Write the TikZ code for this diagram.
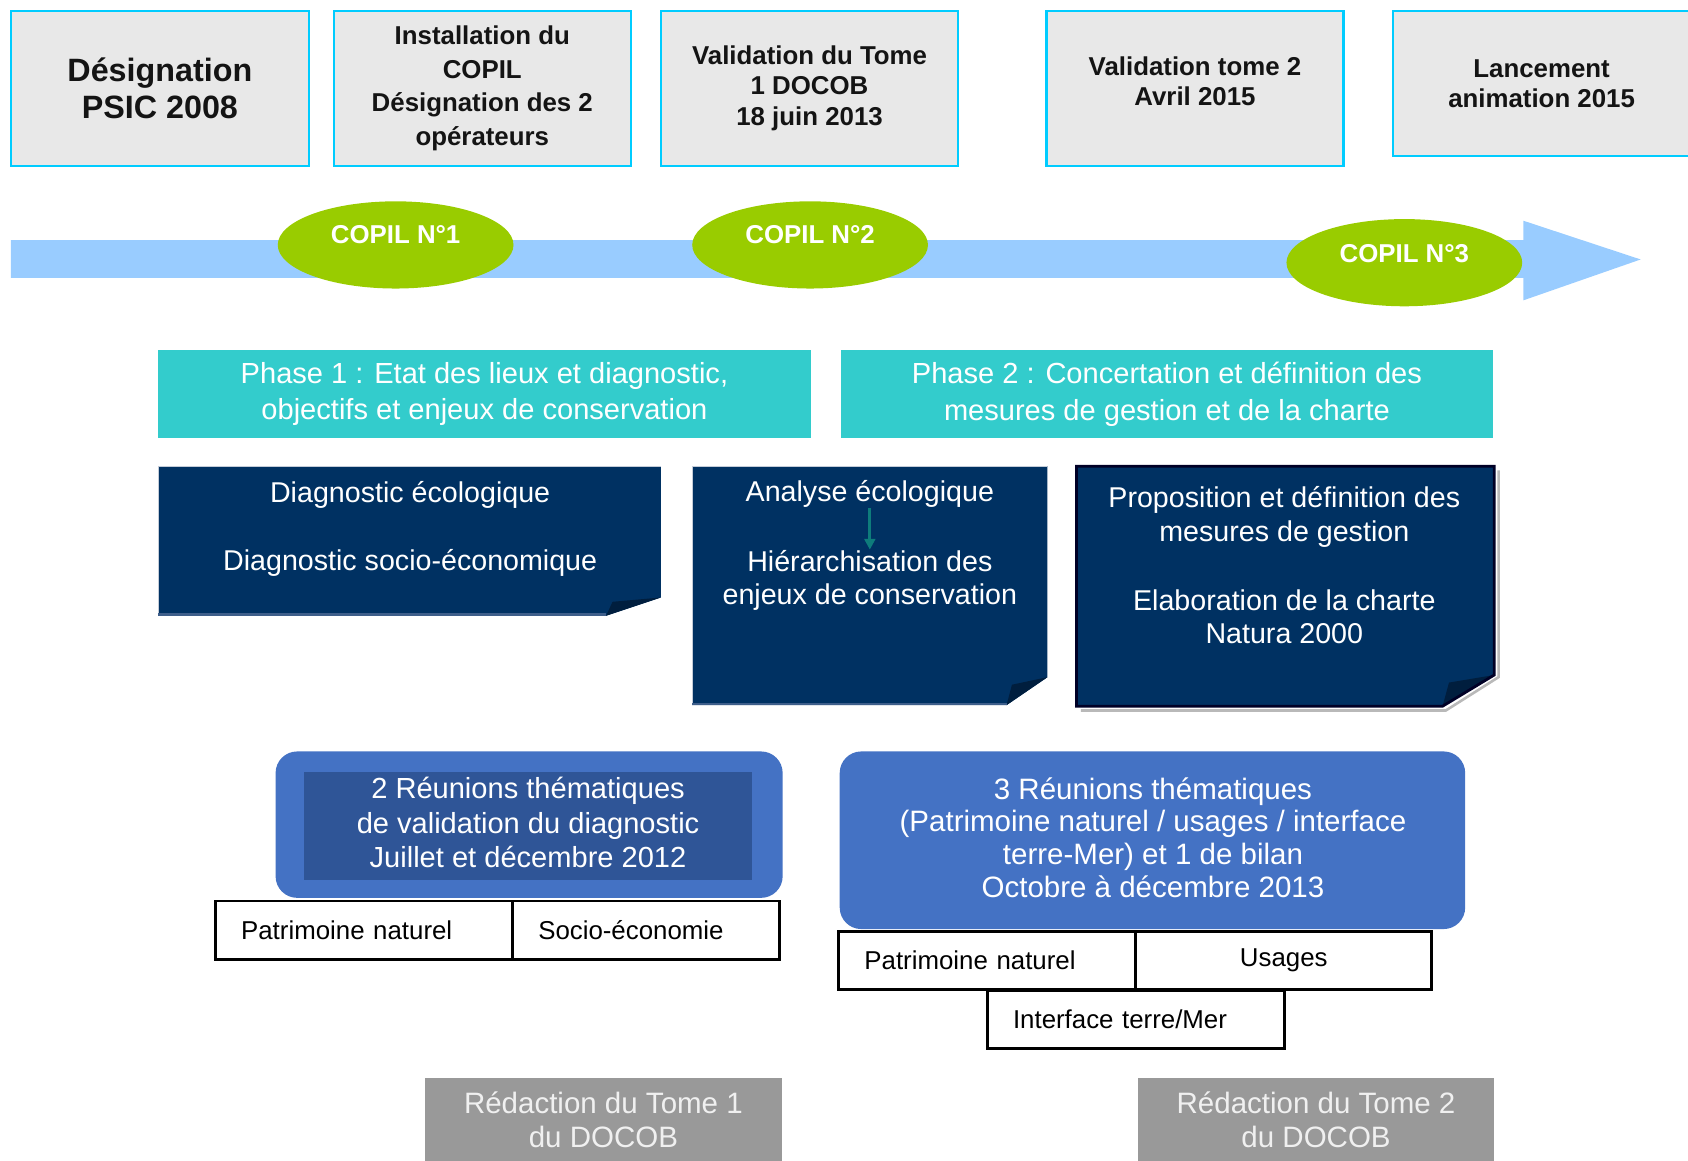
\documentclass[tikz,border=0pt]{standalone}
\usepackage{fontspec}
\setmainfont{Liberation Sans}
\usetikzlibrary{shapes.geometric,arrows.meta}
\definecolor{boxgray}{HTML}{E8E8E8}
\definecolor{cyanb}{HTML}{00CCFF}
\definecolor{arrowblue}{HTML}{99CCFF}
\definecolor{copilgreen}{HTML}{99CC00}
\definecolor{phaseteal}{HTML}{33CCCC}
\definecolor{navyb}{HTML}{003162}
\definecolor{navyfold}{HTML}{001E3E}
\definecolor{navyedge}{HTML}{3E5E8A}
\definecolor{navyline}{HTML}{C4CCD8}
\definecolor{reunion}{HTML}{4472C4}
\definecolor{reuninner}{HTML}{2F5597}
\definecolor{redgray}{HTML}{999999}
\definecolor{tealarr}{HTML}{0E7C7B}
\begin{document}
\begin{tikzpicture}[x=0.5pt,y=-0.5pt,
  topbox/.style={draw=cyanb, line width=1.1pt, fill=boxgray, inner sep=0pt, align=center,
    text=black!92, minimum height=72pt, minimum width=138pt},
  topfont/.style={font=\fontsize{12}{14}\selectfont\bfseries},
  copil/.style={ellipse, fill=copilgreen, inner sep=0pt, minimum width=109.5pt, minimum height=40.5pt},
  copiltext/.style={text=white, font=\fontsize{12}{14}\selectfont\bfseries, inner sep=0pt},
  phasebox/.style={fill=phaseteal, text=white, align=center, inner sep=0pt,
    minimum width=303pt, minimum height=41pt, font=\fontsize{13.5}{17}\selectfont},
  navytext/.style={text=white, align=center, inner sep=0pt, font=\fontsize{13.3}{15.5}\selectfont},
  reubox/.style={fill=reunion, rounded corners=10pt, inner sep=0pt},
  reutext/.style={text=white, align=center, inner sep=0pt, font=\fontsize{13.5}{16}\selectfont},
  themebox/.style={draw=black, line width=1.3pt, fill=white, inner xsep=12pt, inner ysep=0pt,
    minimum height=27pt, font=\fontsize{12}{14}\selectfont, text=black},
  redbox/.style={fill=redgray, text=white!94!black, align=center, inner sep=0pt,
    minimum width=165.5pt, minimum height=38.5pt, font=\fontsize{13.7}{15.5}\selectfont},
]
\useasboundingbox (0,0) rectangle (1568,1078);

% ---- top milestone boxes
\node[topbox, minimum width=138.5pt, font=\fontsize{15}{17.5}\selectfont\bfseries] (t1) at (148.5,82) {Désignation\\PSIC 2008};
\node[topbox, font=\fontsize{12}{15.5}\selectfont\bfseries] (t2) at (448,82) {Installation du\\COPIL\\Désignation des 2\\opérateurs};
\node[topbox, topfont] (t3) at (752,82) {Validation du Tome\\1 DOCOB\\18 juin 2013};
\node[topbox, topfont] (t4) at (1110,82) {Validation tome 2\\Avril 2015\\[-7pt]};
\node[topbox, topfont, minimum height=67.5pt] (t5) at (1432,77.5) {Lancement\\animation 2015};

% ---- timeline arrow
\fill[arrowblue] (10,223) -- (1415,223) -- (1415,205) -- (1524,241) -- (1415,279) -- (1415,258) -- (10,258) -- cycle;

% ---- COPIL ellipses
\node[copil, label={[copiltext, name=c1t, yshift=5pt]center:COPIL N°1}] (c1) at (367.5,227.5) {};
\node[copil, label={[copiltext, name=c2t, yshift=5pt]center:COPIL N°2}] (c2) at (752.5,227.5) {};
\node[copil, label={[copiltext, name=c3t, yshift=4pt]center:COPIL N°3}] (c3) at (1304.5,244) {};

% ---- phases
\node[phasebox] (p1) at (450,366) {Phase 1 : Etat des lieux et diagnostic,\\objectifs et enjeux de conservation};
\node[phasebox] (p2) at (1084,366) {Phase 2 : Concertation et définition des\\mesures de gestion et de la charte};

% ---- navy boxes with folded corner
\fill[navyb] (147,433) -- (614,433) -- (614,555) -- (563,572) -- (147,572) -- cycle;
\fill[navyfold] (563,572) -- (614,555) -- (569,559) -- cycle;
\draw[navyline, line width=0.6pt] (147,572) -- (147,433) -- (614,433);
\draw[navyedge, line width=1.2pt] (147,571) -- (563,571);

\fill[navyb] (643,433) -- (973,433) -- (973,629) -- (935,655) -- (643,655) -- cycle;
\fill[navyfold] (935,655) -- (973,629) -- (940,636) -- cycle;
\draw[navyline, line width=0.6pt] (643,655) -- (643,433) -- (973,433);
\draw[navyedge, line width=1.2pt] (643,654) -- (935,654);

\draw[gray!55, line width=1.2pt] (1392,437) -- (1392,629) -- (1343,660) -- (1004,660);
\fill[navyb] (1000,433) -- (1388,433) -- (1388,627) -- (1340,656) -- (1000,656) -- cycle;
\fill[navyfold] (1340,656) -- (1388,627) -- (1346,634) -- cycle;
\draw[black!85!blue, line width=1.3pt] (1000,433) -- (1388,433) -- (1388,627) -- (1340,656) -- (1000,656) -- cycle;

\node[navytext] (nA) at (381,491) {Diagnostic écologique\\[16pt]Diagnostic socio-économique};
\node[navytext] (nB1) at (808,459) {Analyse écologique};
\node[navytext] (nB2) at (808,539) {Hiérarchisation des\\enjeux de conservation};
\node[navytext, font=\fontsize{13.3}{15.5}\selectfont] (nC) at (1193,525) {Proposition et définition des\\mesures de gestion\\[16.5pt]Elaboration de la charte\\Natura 2000};
\draw[tealarr, line width=1.5pt, -{Triangle[width=5pt,length=5pt]}] (nB1.south) -- (nB2.north);

% ---- thematic meetings
\node[reubox, minimum width=235.5pt, minimum height=68pt] (r1) at (491.5,766) {};
\node[fill=reuninner, inner sep=0pt, minimum width=208pt, minimum height=50pt] (r1i) at (490.5,767) {};
\node[reutext] (r1t) at (490.5,764) {2 Réunions thématiques\\de validation du diagnostic\\Juillet et décembre 2012};

\node[reubox, minimum width=290.5pt, minimum height=82.5pt] (r2) at (1070.5,780.5) {};
\node[reutext, font=\fontsize{13.7}{15.2}\selectfont] (r2t) at (1071,778) {3 Réunions thématiques\\(Patrimoine naturel / usages / interface\\terre-Mer) et 1 de bilan\\Octobre à décembre 2013};

% ---- themes
\node[themebox, minimum width=138pt, text width=114pt, align=left] (w1) at (338,864) {Patrimoine naturel};
\node[themebox, minimum width=124pt, text width=100pt, align=left] (w2) at (600,864) {Socio-économie};
\node[themebox, minimum width=138pt, text width=114pt, align=left] (w3) at (917,892) {Patrimoine naturel};
\node[themebox, minimum width=137.5pt, text width=113.5pt, align=center] (w4) at (1192.5,892) {Usages};
\node[themebox, minimum width=138pt, text width=114pt, align=left] (w5) at (1055,947) {Interface terre/Mer};

% ---- redaction
\node[redbox] (g1) at (560.5,1040) {Rédaction du Tome 1\\du DOCOB};
\node[redbox] (g2) at (1222.5,1040) {Rédaction du Tome 2\\du DOCOB};
\end{tikzpicture}
\end{document}
